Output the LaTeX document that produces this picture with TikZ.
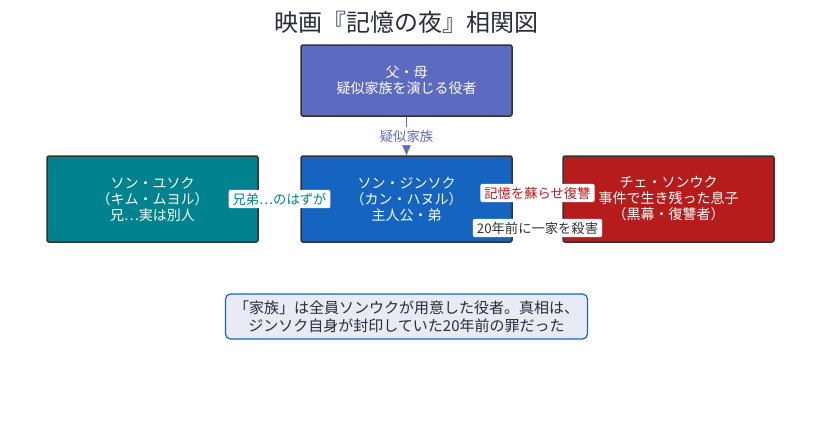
\documentclass[tikz,border=0pt]{standalone}
\usepackage{fontspec}
\setmainfont{Noto Sans CJK JP}
\usetikzlibrary{arrows,positioning}

\definecolor{fakeblue}{HTML}{5C6BC0}
\definecolor{herored}{HTML}{B71C1C}
\definecolor{heroblue}{HTML}{1565C0}
\definecolor{brotherteal}{HTML}{00838F}
\definecolor{framegray}{HTML}{333333}
\definecolor{notefill}{HTML}{E8EAF6}
\definecolor{titlegray}{HTML}{2B2B3B}

\tikzset{
  role/.style={rectangle, draw=framegray, line width=1.5pt, rounded corners=2pt,
    text=white, align=center, minimum width=211pt,
    font=\fontsize{14}{16}\selectfont},
  elabel/.style={fill=white, rounded corners=2pt, inner xsep=4pt, inner ysep=3pt,
    font=\fontsize{13.3}{15}\selectfont},
  notebox/.style={rectangle, draw=heroblue, fill=notefill, line width=1.2pt,
    rounded corners=5pt, align=center, minimum width=362pt, minimum height=45pt,
    text=titlegray, font=\fontsize{15}{18}\selectfont}
}

\begin{document}
\begin{tikzpicture}[->,>=triangle 45,semithick]
		\useasboundingbox (0,0) rectangle (813pt,-434pt);

		\node[role, fill=fakeblue, minimum height=71pt] (P) at (406.5pt,-80.5pt) {父・母\\疑似家族を演じる役者};
		\node[role, fill=heroblue, minimum height=86pt] (M) [below of=P, node distance=118.5pt] {ソン・ジンソク\\（カン・ハヌル）\\主人公・弟};
		\node[role, fill=brotherteal, minimum height=86pt] (L) [left of=M, node distance=254pt] {ソン・ユソク\\（キム・ムヨル）\\兄⋯実は別人};
		\node[role, fill=herored, minimum height=86pt] (R) [right of=M, node distance=262pt] {チェ・ソンウク\\事件で生き残った息子\\（黒幕・復讐者）};

		\node[text=titlegray, font=\fontsize{24}{28}\selectfont] (T) [above of=P, node distance=58.5pt] {映画『記憶の夜』相関図};
		\node[notebox] (N) [below of=M, node distance=117.5pt] {「家族」は全員ソンウクが用意した役者。真相は、\\ジンソク自身が封印していた20年前の罪だった};

		\path (P) edge[draw=fakeblue, line width=1.5pt] node[elabel, text=fakeblue] {疑似家族} (M);
		\path (L) edge[draw=brotherteal] node[elabel, text=brotherteal] {兄弟⋯のはずが} (M);
		\path ([yshift=6pt]R.west) edge[draw=herored] node[elabel, text=herored] {記憶を蘇らせ復讐} ([yshift=6pt]M.east);
		\path ([yshift=-29pt]M.east) edge[draw=framegray] node[elabel, text=framegray] {20年前に一家を殺害} ([yshift=-29pt]R.west);

	\end{tikzpicture}
\end{document}
